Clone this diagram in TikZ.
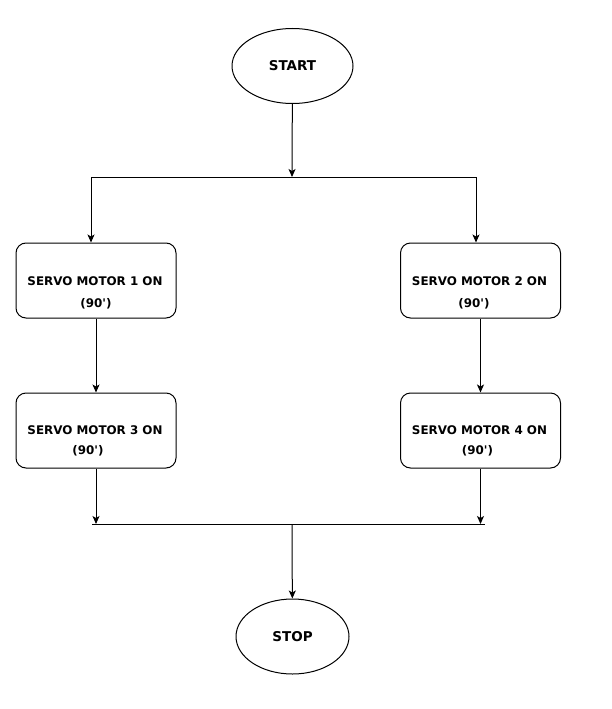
\documentclass[tikz,border=0pt]{standalone}
\usepackage{fontspec}
\setmainfont{DejaVu Sans}[Ligatures=TeXOff]
\usetikzlibrary{shapes.geometric,arrows.meta}

\tikzset{
  term/.style={draw, ellipse, line width=1pt, minimum width=#1, minimum height=75pt, inner sep=0pt, font=\bfseries\fontsize{13.5}{15}\selectfont},
  servo/.style={draw, rounded corners=10pt, line width=1pt, minimum width=160pt, minimum height=75pt},
  txt/.style={inner sep=0pt, font=\bfseries\fontsize{11.9}{14}\selectfont},
  flow/.style={line width=1pt, -{Stealth[length=8pt,width=7pt,inset=2pt]}},
  wire/.style={line width=1pt}
}

\begin{document}
\begin{tikzpicture}[x=1pt,y=-1pt]
\useasboundingbox (0,0) rectangle (612,709);
\node[term=121pt] (start) at (292.5,66) {START};
\node[term=113pt] (stop) at (292.5,636.5) {STOP};
\node[servo] (m1) at (96,280.5) {};
\node[servo] (m2) at (480.5,280.5) {};
\node[servo] (m3) at (96,430.5) {};
\node[servo] (m4) at (480.5,430.5) {};
\node[txt] (m1a) at (95,281) {SERVO MOTOR 1 ON};
\node[txt] (m1b) at (96,304) {(90')};
\node[txt] (m2a) at (479.5,281) {SERVO MOTOR 2 ON};
\node[txt] (m2b) at (474,304) {(90')};
\node[txt] (m3a) at (95,430) {SERVO MOTOR 3 ON};
\node[txt] (m3b) at (88,451) {(90')};
\node[txt] (m4a) at (479.5,430) {SERVO MOTOR 4 ON};
\node[txt] (m4b) at (477.5,451) {(90')};
\coordinate (split) at (292,177);
\coordinate (splitL) at (91,177);
\coordinate (splitR) at (476,177);
\coordinate (join) at (292,524);
\coordinate (joinL) at (92,524);
\coordinate (joinR) at (485,524);
\draw[flow] (start) -- (split);
\draw[wire] (splitL) -- (splitR);
\draw[flow] (splitL) -- (splitL |- m1.north);
\draw[flow] (splitR) -- (splitR |- m2.north);
\draw[flow] (m1) -- (m3);
\draw[flow] (m2) -- (m4);
\draw[flow] (m3) -- (m3 |- join);
\draw[flow] (m4) -- (m4 |- join);
\draw[wire] (joinL) -- (joinR);
\draw[flow] (join) -- (stop);
\end{tikzpicture}
\end{document}
